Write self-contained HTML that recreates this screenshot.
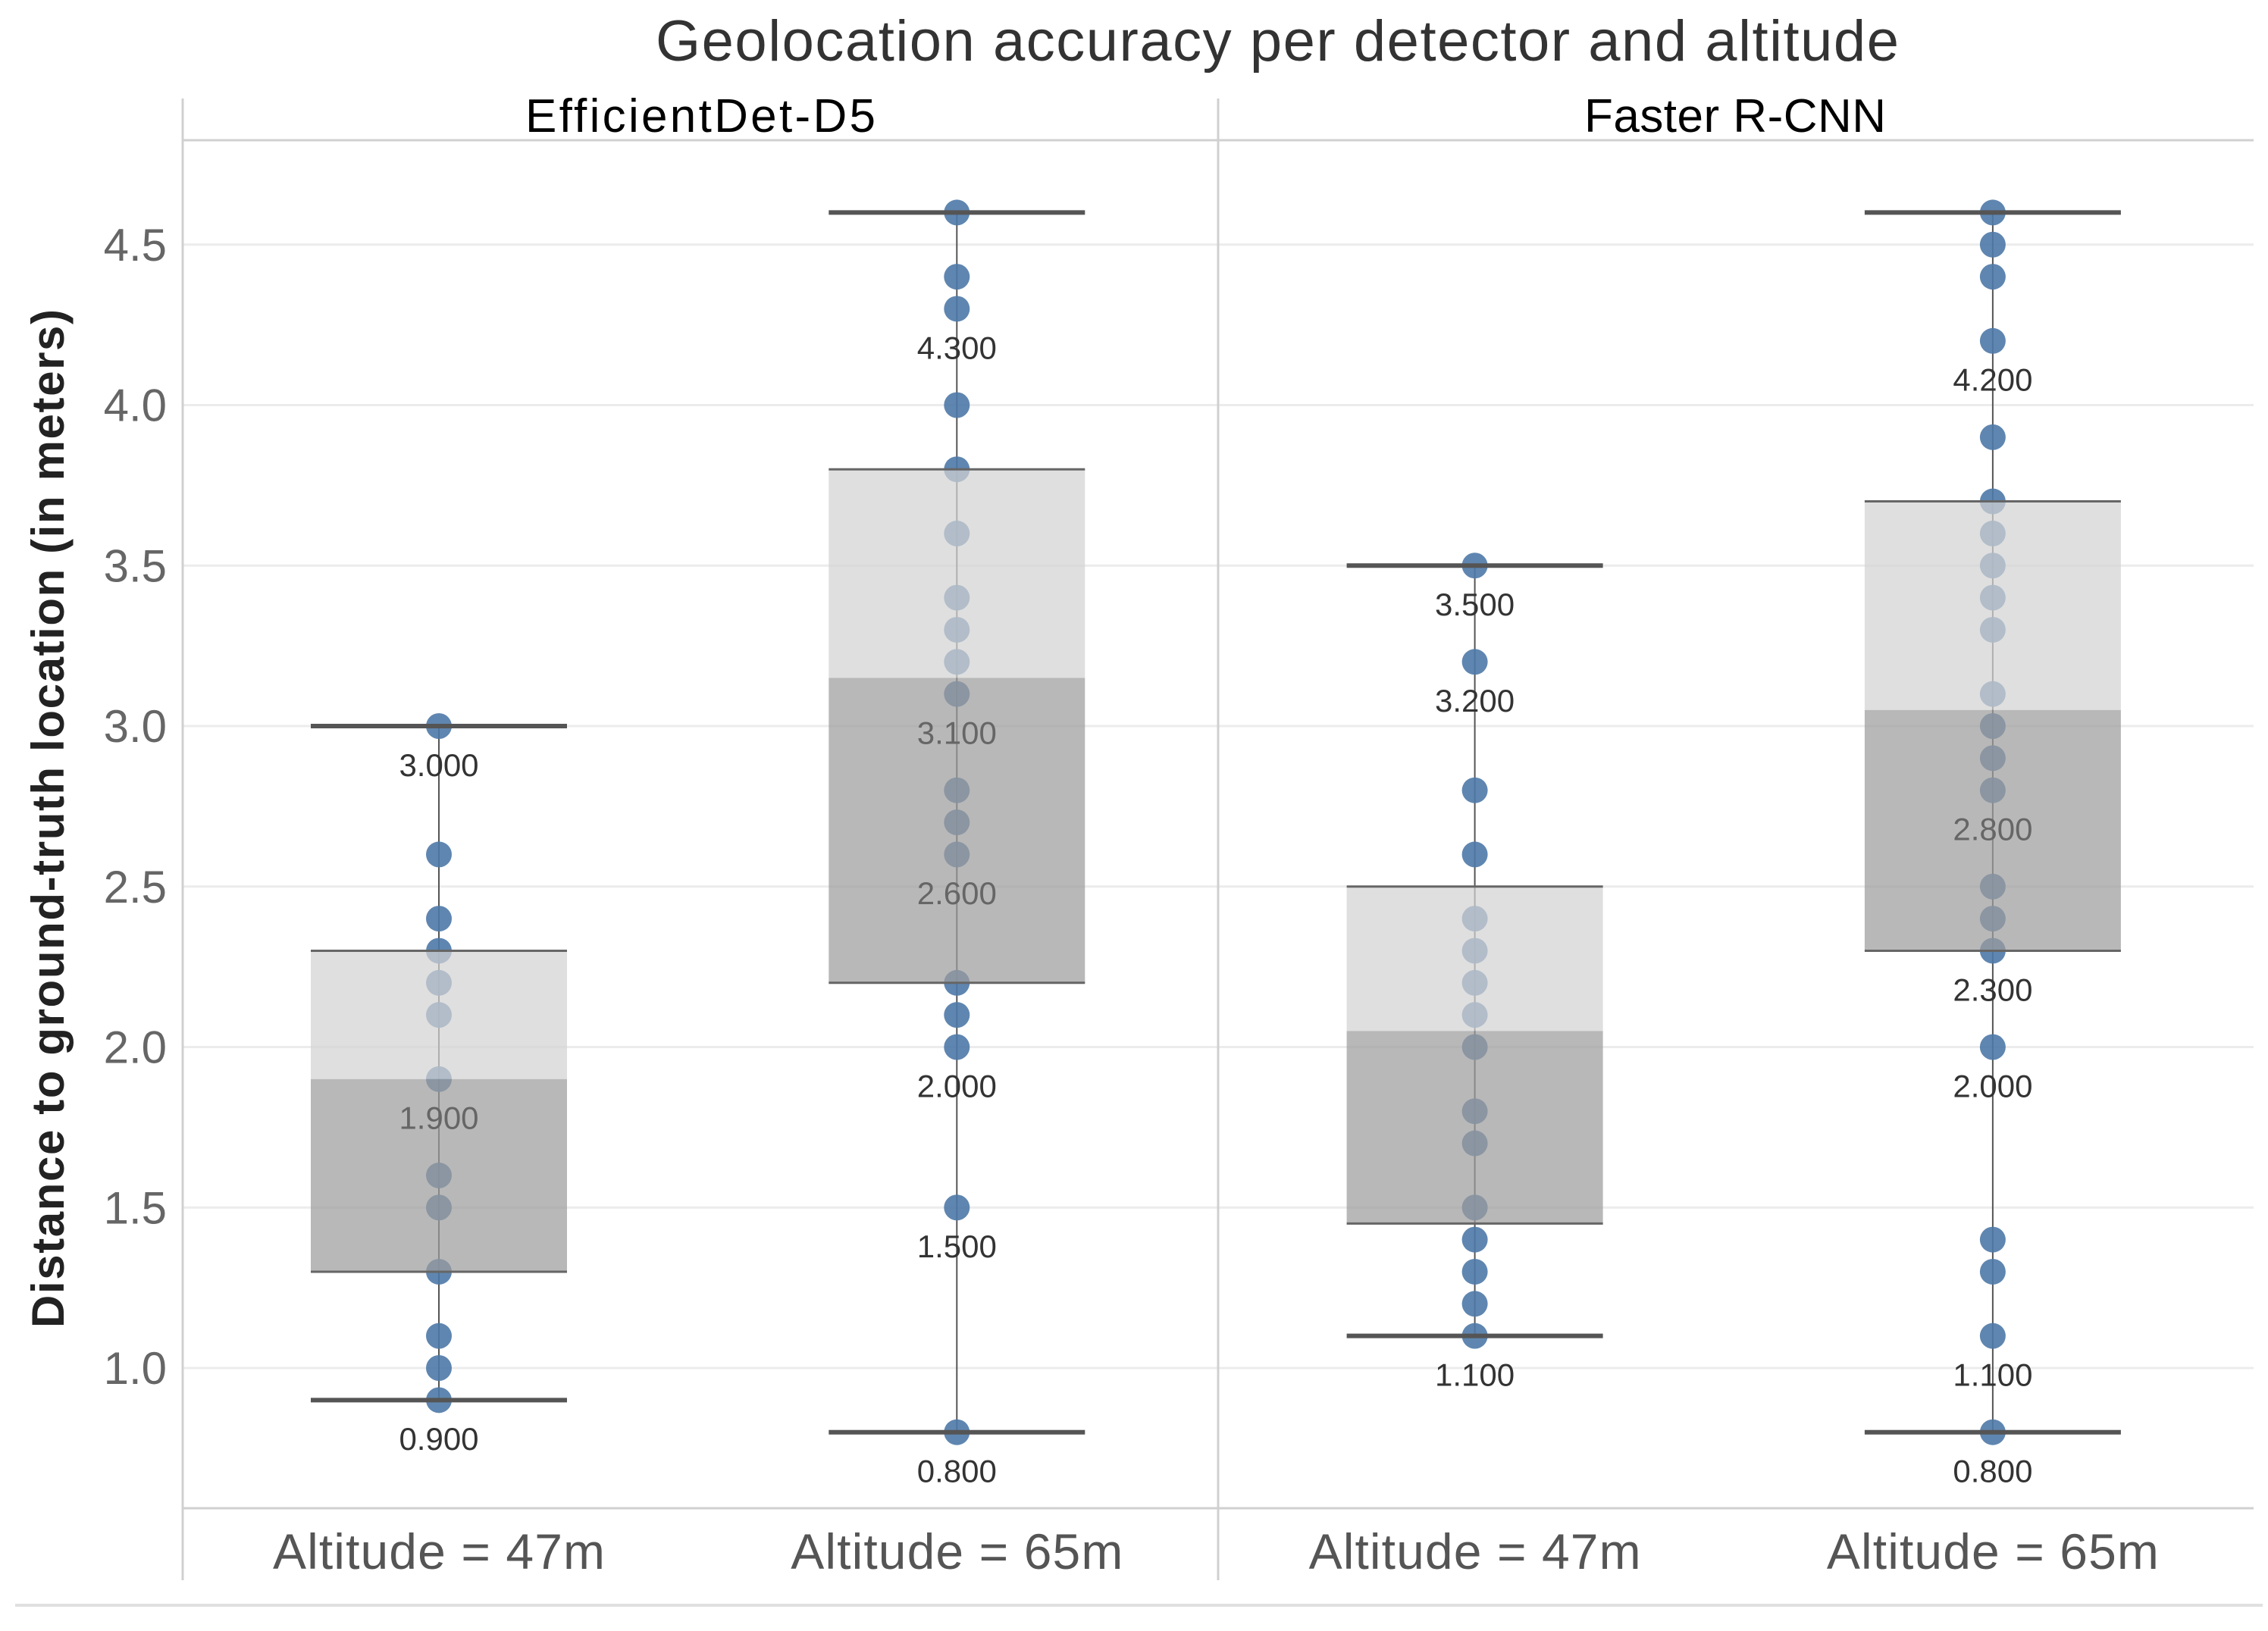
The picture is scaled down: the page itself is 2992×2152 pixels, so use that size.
<!DOCTYPE html>
<html><head><meta charset="utf-8">
<style>
html,body{margin:0;padding:0;background:#fff;}
svg{display:block;font-family:"Liberation Sans","DejaVu Sans",sans-serif;}
</style></head>
<body>
<svg id="chart" width="2992" height="2152" viewBox="0 0 2992 2152">
<text x="1685" y="80" font-size="76" fill="#333" text-anchor="middle" textLength="1640">Geolocation accuracy per detector and altitude</text>
<text x="924" y="174" font-size="62" fill="#000" text-anchor="middle" textLength="462">EfficientDet-D5</text>
<text x="2289" y="174" font-size="62" fill="#000" text-anchor="middle" textLength="398">Faster R-CNN</text>
<g id="grid"></g>
<line x1="241" y1="185" x2="2973" y2="185" stroke="#d0d0d0" stroke-width="3"/>
<line x1="241" y1="130" x2="241" y2="2085" stroke="#d0d0d0" stroke-width="3"/>
<line x1="1607" y1="130" x2="1607" y2="2085" stroke="#d0d0d0" stroke-width="3"/>
<line x1="241" y1="1990" x2="2973" y2="1990" stroke="#d0d0d0" stroke-width="3"/>
<line x1="20" y1="2118" x2="2985" y2="2118" stroke="#e0e0e0" stroke-width="4"/>
<text transform="translate(84,1080) rotate(-90)" font-size="60" font-weight="bold" fill="#222" text-anchor="middle" textLength="1344">Distance to ground-truth location (in meters)</text>
<g id="yticks"></g>
<g id="marks"></g>
</svg>
<script>
const categories = ["Altitude = 47m","Altitude = 65m","Altitude = 47m","Altitude = 65m"];
const points0 = [0.9,1.0,1.1,1.3,1.5,1.6,1.9,2.1,2.2,2.3,2.4,2.6,3.0];
const points1 = [0.8,1.5,2.0,2.1,2.2,2.6,2.7,2.8,3.1,3.2,3.3,3.4,3.6,3.8,4.0,4.3,4.4,4.6];
const points2 = [1.1,1.2,1.3,1.4,1.5,1.7,1.8,2.0,2.1,2.2,2.3,2.4,2.6,2.8,3.2,3.5];
const points3 = [0.8,1.1,1.3,1.4,2.0,2.3,2.4,2.5,2.8,2.9,3.0,3.1,3.3,3.4,3.5,3.6,3.7,3.9,4.2,4.4,4.5,4.6];
const whiskerLow = [0.9,0.8,1.1,0.8];
const q1 = [1.3,2.2,1.45,2.3];
const median = [1.9,3.15,2.05,3.05];
const q3 = [2.3,3.8,2.5,3.7];
const whiskerHigh = [3.0,4.6,3.5,4.6];
const labels0 = [3.0,1.9,0.9];
const labels1 = [4.3,3.1,2.6,2.0,1.5,0.8];
const labels2 = [3.5,3.2,1.1];
const labels3 = [4.2,2.8,2.3,2.0,1.1,0.8];
const yTicks = [1.0,1.5,2.0,2.5,3.0,3.5,4.0,4.5];

const allPoints=[points0,points1,points2,points3];
const allLabels=[labels0,labels1,labels2,labels3];
const NS="http://www.w3.org/2000/svg";
function y(v){return 1805-(v-1)*423.5;}
function x(i){return 579+i*683.3;}
const HW=169;
function mk(tag,attrs,parent){const e=document.createElementNS(NS,tag);for(const k in attrs)e.setAttribute(k,attrs[k]);parent.appendChild(e);return e;}
const grid=document.getElementById('grid'),yt=document.getElementById('yticks'),marks=document.getElementById('marks');
yTicks.forEach(t=>{
  const l=mk('line',{x1:241,x2:2973,y1:y(t),y2:y(t),stroke:'#ececec','stroke-width':3},grid);
  
  
  const tx=mk('text',{x:220,y:y(t)+21,'font-size':60,fill:'#666','text-anchor':'end'},yt);
  tx.textContent=t.toFixed(1);
  
  
});
categories.forEach((c,i)=>{
  const cx=x(i);
  const g=mk('g',{},marks);
  
  
  const wl=mk('line',{x1:cx,x2:cx,y1:y(whiskerLow[i]),y2:y(whiskerHigh[i]),stroke:'#555','stroke-width':2},g);
  
  
  allPoints[i].forEach(v=>{
    const p=mk('circle',{cx:cx,cy:y(v),r:17,fill:'#4e79a7','fill-opacity':0.9},g);
    
    
  });
  const ub=mk('rect',{x:cx-HW,y:y(q3[i]),width:2*HW,height:y(median[i])-y(q3[i]),fill:'#d3d3d3','fill-opacity':0.72},g);
  
  
  const lb=mk('rect',{x:cx-HW,y:y(median[i]),width:2*HW,height:y(q1[i])-y(median[i]),fill:'#9c9c9c','fill-opacity':0.72},g);
  
  
  [q1[i],q3[i]].forEach(v=>{
    const e=mk('line',{x1:cx-HW,x2:cx+HW,y1:y(v),y2:y(v),stroke:'#666','stroke-width':3},g);
    
    
  });
  [whiskerLow[i],whiskerHigh[i]].forEach(v=>{
    const e=mk('line',{x1:cx-HW,x2:cx+HW,y1:y(v),y2:y(v),stroke:'#555','stroke-width':6},g);
    
    
  });
  allLabels[i].forEach(v=>{
    const lv=v-0.12;
    const inBox=lv>q1[i]&&lv<q3[i];
    const t=mk('text',{x:cx,y:y(lv)+15,'font-size':42,fill:inBox?'#666':'#333','text-anchor':'middle'},g);
    t.textContent=v.toFixed(3);
    
    
  });
  const xl=mk('text',{x:cx,y:2070,'font-size':66,fill:'#555','text-anchor':'middle',textLength:438},marks);
  xl.textContent=c;
  
  
});
</script>
</body></html>
